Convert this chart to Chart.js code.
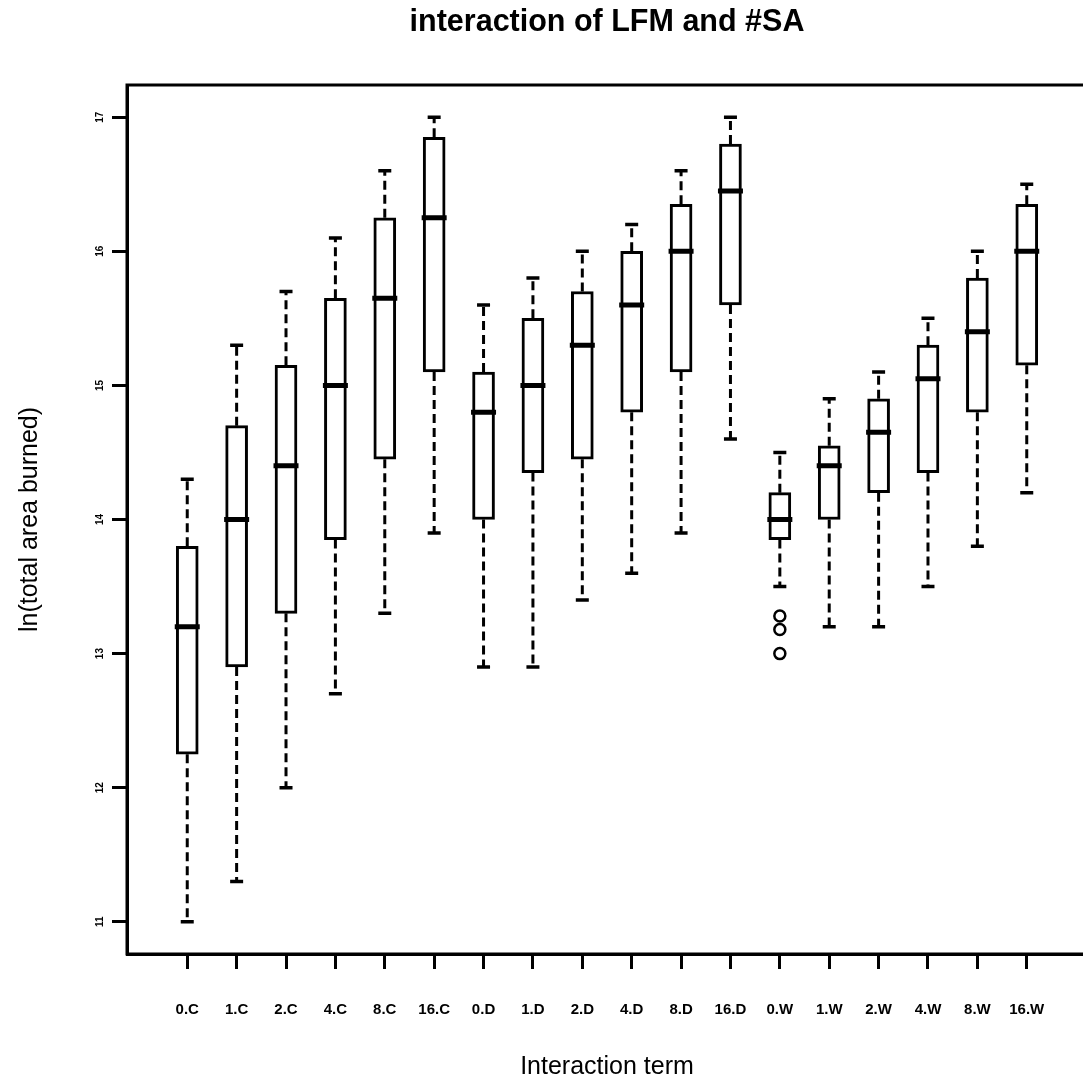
<!DOCTYPE html>
<html>
<head>
<meta charset="utf-8">
<script src="https://cdn.jsdelivr.net/npm/chart.js@4.4.1/dist/chart.umd.min.js"></script>
<style>
  html, body { margin: 0; padding: 0; background: #ffffff; overflow: hidden; }
  #wrap { width: 1095px; height: 1085px; position: relative; }
</style>
</head>
<body>
<div id="wrap"><canvas id="c"></canvas></div>
<script>
// ---- data ----
const categories = ['0.C','1.C','2.C','4.C','8.C','16.C','0.D','1.D','2.D','4.D','8.D','16.D','0.W','1.W','2.W','4.W','8.W','16.W'];
const whiskerLow  = [11.0, 11.3, 12.0, 12.7, 13.3, 13.9, 12.9, 12.9, 13.4, 13.6, 13.9, 14.6, 13.5, 13.2, 13.2, 13.5, 13.8, 14.2];
const q1          = [12.25, 12.9, 13.3, 13.85, 14.45, 15.1, 14.0, 14.35, 14.45, 14.8, 15.1, 15.6, 13.85, 14.0, 14.2, 14.35, 14.8, 15.15];
const medians     = [13.2, 14.0, 14.4, 15.0, 15.65, 16.25, 14.8, 15.0, 15.3, 15.6, 16.0, 16.45, 14.0, 14.4, 14.65, 15.05, 15.4, 16.0];
const q3          = [13.8, 14.7, 15.15, 15.65, 16.25, 16.85, 15.1, 15.5, 15.7, 16.0, 16.35, 16.8, 14.2, 14.55, 14.9, 15.3, 15.8, 16.35];
const whiskerHigh = [14.3, 15.3, 15.7, 16.1, 16.6, 17.0, 15.6, 15.8, 16.0, 16.2, 16.6, 17.0, 14.5, 14.9, 15.1, 15.5, 16.0, 16.5];
const outlierCats   = ['0.W', '0.W', '0.W'];
const outlierValues = [13.28, 13.18, 13.0];
const yTicks = [11, 12, 13, 14, 15, 16, 17];

const titleText = 'interaction of LFM and #SA';
const xTitle = 'Interaction term';
const yTitle = 'ln(total area burned)';

// ---- build library data ----
const boxData = categories.map((c, i) => ({ x: i + 1, y: [q1[i], q3[i]] }));
const outlierData = outlierCats.map((c, k) => ({ x: categories.indexOf(c) + 1, y: outlierValues[k] }));

const FONT = '"Liberation Sans", Arial, Helvetica, sans-serif';

const boxPlugin = {
  id: 'boxParts',
  beforeDatasetsDraw(chart) {
    const ctx = chart.ctx, xs = chart.scales.x, ys = chart.scales.y;
    ctx.save();
    ctx.strokeStyle = '#000';
    categories.forEach((c, i) => {
      const px = xs.getPixelForValue(i + 1);
      // dashed whiskers
      ctx.lineWidth = 3;
      ctx.setLineDash([9, 5]);
      ctx.beginPath();
      ctx.moveTo(px, ys.getPixelForValue(q3[i]));
      ctx.lineTo(px, ys.getPixelForValue(whiskerHigh[i]));
      ctx.moveTo(px, ys.getPixelForValue(q1[i]));
      ctx.lineTo(px, ys.getPixelForValue(whiskerLow[i]));
      ctx.stroke();
      // caps
      ctx.setLineDash([]);
      ctx.lineWidth = 3.5;
      ctx.beginPath();
      const hy = ys.getPixelForValue(whiskerHigh[i]);
      const ly = ys.getPixelForValue(whiskerLow[i]);
      ctx.moveTo(px - 6.5, hy); ctx.lineTo(px + 6.5, hy);
      ctx.moveTo(px - 6.5, ly); ctx.lineTo(px + 6.5, ly);
      ctx.stroke();
    });
    ctx.restore();
  },
  afterDatasetsDraw(chart) {
    const ctx = chart.ctx, xs = chart.scales.x, ys = chart.scales.y;
    ctx.save();
    ctx.strokeStyle = '#000';
    ctx.lineWidth = 5;
    ctx.beginPath();
    categories.forEach((c, i) => {
      const px = xs.getPixelForValue(i + 1);
      const my = ys.getPixelForValue(medians[i]);
      ctx.moveTo(px - 12.5, my); ctx.lineTo(px + 12.5, my);
    });
    ctx.stroke();
    // plot frame
    const a = chart.chartArea;
    ctx.lineWidth = 3;
    ctx.strokeRect(a.left, a.top, a.right - a.left, a.bottom - a.top);
    ctx.restore();
  }
};

new Chart(document.getElementById('c'), {
  type: 'bar',
  data: {
    datasets: [
      {
        type: 'bar',
        data: boxData,
        backgroundColor: '#ffffff',
        borderColor: '#000000',
        borderWidth: 3,
        borderSkipped: false,
        barThickness: 22,
        order: 2
      },
      {
        type: 'scatter',
        data: outlierData,
        pointStyle: 'circle',
        pointRadius: 5.5,
        pointBorderWidth: 2.5,
        borderColor: '#000000',
        backgroundColor: 'rgba(0,0,0,0)',
        order: 1
      }
    ]
  },
  options: {
    responsive: true,
    maintainAspectRatio: false,
    animation: false,
    events: [],
    layout: { padding: { left: 0, right: 6, top: 0, bottom: 0 } },
    plugins: {
      legend: { display: false },
      tooltip: { enabled: false },
      title: {
        display: true,
        text: titleText,
        fullSize: false,
        color: '#000',
        font: { family: FONT, size: 30.5, weight: 'bold' },
        padding: { top: 4, bottom: 44.4 }
      }
    },
    scales: {
      x: {
        type: 'linear',
        offset: false,
        min: -0.22,
        max: 19.22,
        afterBuildTicks(scale) { scale.ticks = categories.map((c, i) => ({ value: i + 1 })); },
        afterFit(scale) { scale.height = 131; },
        ticks: {
          autoSkip: false,
          maxRotation: 0,
          minRotation: 0,
          padding: 32,
          color: '#000',
          font: { family: FONT, size: 15, weight: 'bold' },
          callback: (v) => categories[v - 1]
        },
        grid: {
          display: true,
          offset: false,
          drawOnChartArea: false,
          drawTicks: true,
          tickLength: 15,
          tickWidth: 3,
          tickColor: '#000'
        },
        border: { display: true, color: '#000', width: 3 },
        title: {
          display: true,
          text: xTitle,
          color: '#000',
          font: { family: FONT, size: 25 },
          padding: { top: 0, bottom: 3 }
        }
      },
      y: {
        type: 'linear',
        min: 10.76,
        max: 17.24,
        afterBuildTicks(scale) { scale.ticks = yTicks.map(v => ({ value: v })); },
        afterFit(scale) { scale.width = 127; },
        ticks: {
          minRotation: 90,
          maxRotation: 90,
          crossAlign: 'center',
          padding: 6.5,
          color: '#000',
          font: { family: FONT, size: 10, weight: 'bold' },
          callback: (v) => String(v)
        },
        grid: {
          display: true,
          drawOnChartArea: false,
          drawTicks: true,
          tickLength: 15,
          tickWidth: 3,
          tickColor: '#000'
        },
        border: { display: true, color: '#000', width: 3 },
        title: {
          display: true,
          text: yTitle,
          color: '#000',
          font: { family: FONT, size: 25 },
          padding: { top: 15, bottom: 0 }
        }
      }
    }
  },
  plugins: [boxPlugin]
});
</script>
</body>
</html>
